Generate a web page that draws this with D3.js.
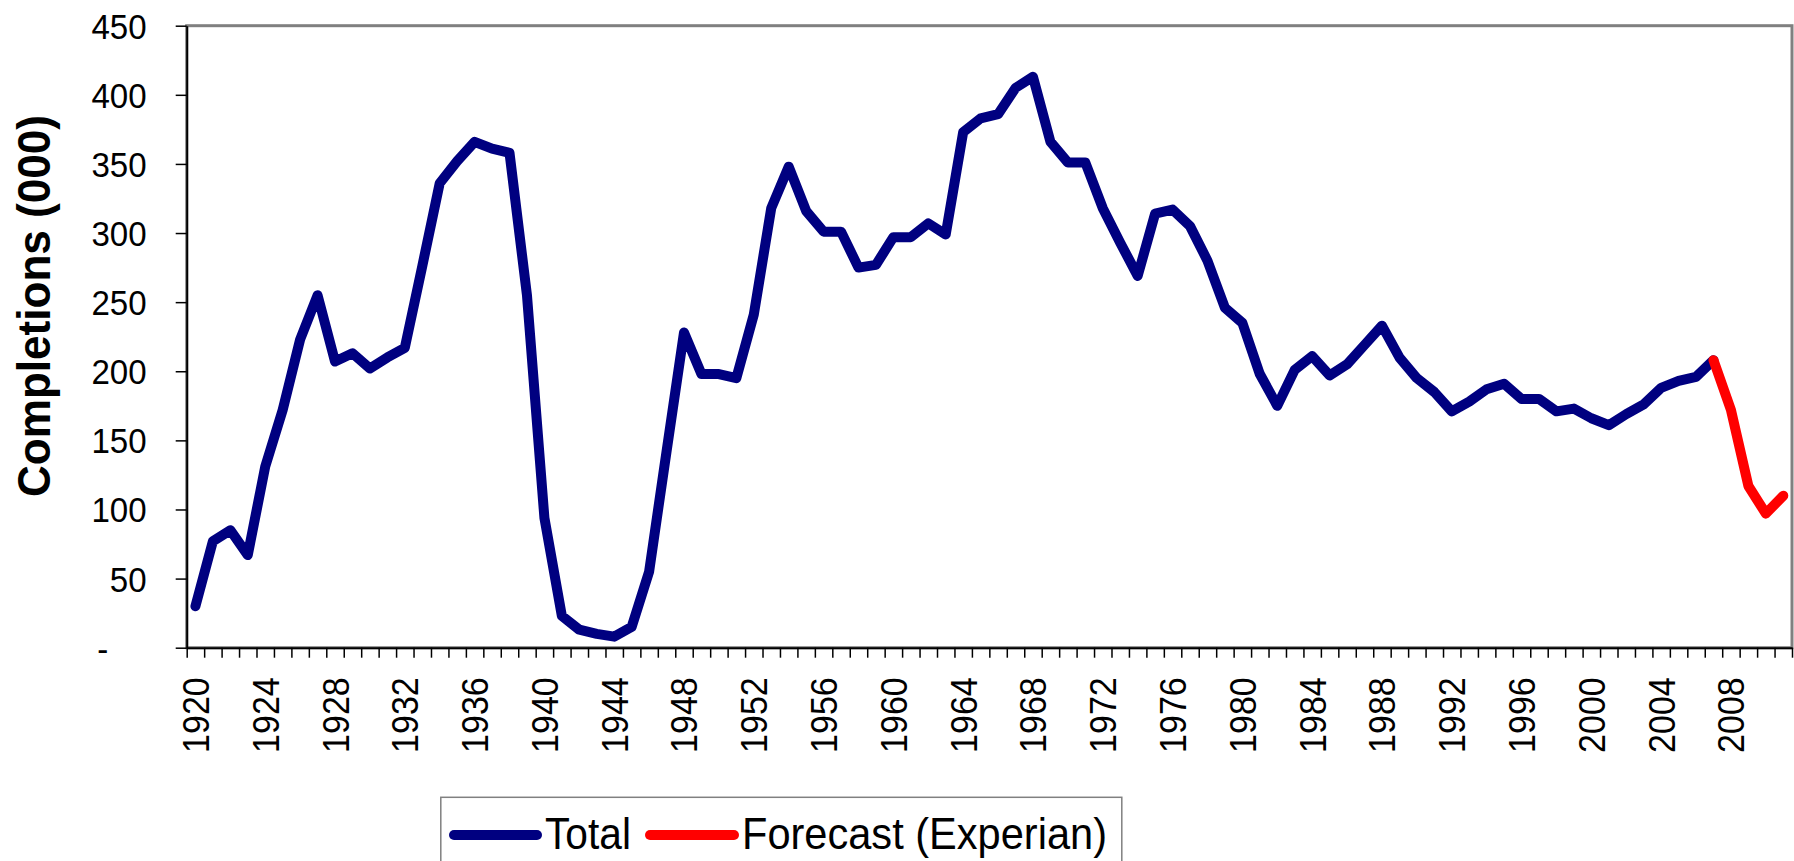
<!DOCTYPE html>
<html>
<head>
<meta charset="utf-8">
<script src="https://cdn.jsdelivr.net/npm/d3@7/dist/d3.min.js"></script>
<style>
  html, body { margin: 0; padding: 0; background: #fff; }
  svg { display: block; }
  text { font-family: "Liberation Sans", Arial, Helvetica, sans-serif; fill: #000; }
</style>
</head>
<body>
<svg id="chart" width="1794" height="861"></svg>
<script>
// ---------- DATA ----------
const years = [
  1920,1921,1922,1923,1924,1925,1926,1927,1928,1929,
  1930,1931,1932,1933,1934,1935,1936,1937,1938,1939,
  1940,1941,1942,1943,1944,1945,1946,1947,1948,1949,
  1950,1951,1952,1953,1954,1955,1956,1957,1958,1959,
  1960,1961,1962,1963,1964,1965,1966,1967,1968,1969,
  1970,1971,1972,1973,1974,1975,1976,1977,1978,1979,
  1980,1981,1982,1983,1984,1985,1986,1987,1988,1989,
  1990,1991,1992,1993,1994,1995,1996,1997,1998,1999,
  2000,2001,2002,2003,2004,2005,2006,2007,2008,2009,
  2010,2011
];
const totalYears = years.slice(0, 88);          // 1920–2007
const totalValues = [
  30, 77, 85, 67, 131, 172, 223, 255, 207, 213,
  202, 210, 217, 276, 336, 352, 366, 361, 358, 255,
  94, 23, 13, 10, 8, 15, 55, 142, 228, 198,
  198, 195, 241, 318, 348, 316, 301, 301, 275, 277,
  297, 297, 307, 299, 373, 383, 386, 405, 413, 366,
  351, 351, 318, 293, 269, 314, 317, 305, 280, 246,
  235, 198, 175, 201, 211, 197, 205, 219, 233, 210,
  195, 185, 171, 178, 187, 191, 180, 180, 171, 173,
  166, 161, 169, 176, 188, 193, 196, 208
];
const forecastYears = [2007, 2008, 2009, 2010, 2011];
const forecastValues = [208, 172, 117, 97, 110];
const yTicks = [0, 50, 100, 150, 200, 250, 300, 350, 400, 450];
const xLabelYears = [1920,1924,1928,1932,1936,1940,1944,1948,1952,1956,1960,1964,1968,1972,1976,1980,1984,1988,1992,1996,2000,2004,2008];
const seriesNames = ["Total", "Forecast (Experian)"];
const seriesColors = ["#000080", "#FF0000"];
const yTitle = "Completions (000)";

// ---------- LAYOUT ----------
const L = 186.7, R = 1792, T = 25.7, B = 647.7;
const svg = d3.select("#chart");

const x = d3.scaleBand().domain(years).range([L, R]).padding(0);
const xEdge = d3.scaleLinear().domain([1920, 2012]).range([L, R]);
const y = d3.scaleLinear().domain([0, 450]).range([B, T]);
const cx = d => x(d) + x.bandwidth() / 2;

// plot border (top/right gray)
svg.append("rect")
  .attr("x", L).attr("y", T).attr("width", R - L).attr("height", B - T)
  .attr("fill", "#fff").attr("stroke", "#808080").attr("stroke-width", 3);

// ---------- Y AXIS ----------
const yAxis = svg.append("g")
  .attr("transform", `translate(${L},0)`)
  .call(d3.axisLeft(y).tickValues(yTicks).tickSize(11).tickSizeOuter(0).tickPadding(29)
        .tickFormat(d => d === 0 ? "-" : d3.format("d")(d)));
yAxis.select(".domain").attr("stroke", "#000").attr("stroke-width", 2);
yAxis.selectAll(".tick line").attr("stroke", "#000").attr("stroke-width", 1.5);
yAxis.selectAll(".tick text")
  .attr("font-size", 36).attr("font-family", "Liberation Sans, Arial, sans-serif")
  .attr("fill", "#000")
  .each(function(d) {
    const t = d3.select(this);
    const xx = d === 0 ? -84 : -40;
    t.attr("text-anchor", d === 0 ? "middle" : "end")
     .attr("x", null).attr("dy", null)
     .attr("transform", `translate(${xx},12.5) scale(0.92,1)`);
  });

// ---------- X AXIS ----------
const xTicksG = svg.append("g")
  .attr("transform", `translate(0,${B})`)
  .call(d3.axisBottom(xEdge).tickValues(d3.range(1920, 2013)).tickSize(10).tickSizeOuter(0).tickFormat(""));
xTicksG.select(".domain").attr("stroke", "#000").attr("stroke-width", 2);
xTicksG.selectAll(".tick line").attr("stroke", "#000").attr("stroke-width", 1.5);

const xLabG = svg.append("g")
  .attr("transform", `translate(0,${B})`)
  .call(d3.axisBottom(x).tickValues(xLabelYears).tickSize(0).tickFormat(d3.format("d")));
xLabG.select(".domain").remove();
xLabG.selectAll(".tick text")
  .attr("font-size", 37).attr("font-family", "Liberation Sans, Arial, sans-serif")
  .attr("fill", "#000")
  .attr("text-anchor", "end")
  .attr("x", null).attr("y", null).attr("dy", null)
  .attr("transform", "translate(13.5,29.5) rotate(-90) scale(0.92,1)");

// ---------- Y TITLE ----------
svg.append("text")
  .attr("transform", "translate(50,306) rotate(-90)")
  .attr("text-anchor", "middle")
  .attr("font-size", 47).attr("font-weight", "bold")
  .attr("textLength", 382).attr("lengthAdjust", "spacingAndGlyphs")
  .text(yTitle);

// ---------- LINES ----------
const line = d3.line().x(d => cx(d[0])).y(d => y(d[1]));
const totalData = totalYears.map((yr, i) => [yr, totalValues[i]]);
const forecastData = forecastYears.map((yr, i) => [yr, forecastValues[i]]);

svg.append("path").datum(totalData)
  .attr("d", line).attr("fill", "none")
  .attr("stroke", seriesColors[0]).attr("stroke-width", 10)
  .attr("stroke-linejoin", "round").attr("stroke-linecap", "round");
svg.append("path").datum(forecastData)
  .attr("d", line).attr("fill", "none")
  .attr("stroke", seriesColors[1]).attr("stroke-width", 10)
  .attr("stroke-linejoin", "round").attr("stroke-linecap", "round");

// ---------- LEGEND ----------
const lg = svg.append("g");
lg.append("rect").attr("x", 440.8).attr("y", 797.3).attr("width", 681).attr("height", 90)
  .attr("fill", "#fff").attr("stroke", "#808080").attr("stroke-width", 1.5);
const legendItems = [
  { name: seriesNames[0], color: seriesColors[0], x1: 454, x2: 537, tx: 545, tw: 86 },
  { name: seriesNames[1], color: seriesColors[1], x1: 650, x2: 734, tx: 742, tw: 365 }
];
legendItems.forEach(it => {
  lg.append("line").attr("x1", it.x1).attr("x2", it.x2).attr("y1", 835).attr("y2", 835)
    .attr("stroke", it.color).attr("stroke-width", 10).attr("stroke-linecap", "round");
  lg.append("text").attr("x", it.tx).attr("y", 849)
    .attr("font-size", 44)
    .attr("textLength", it.tw).attr("lengthAdjust", "spacingAndGlyphs")
    .text(it.name);
});
</script>
</body>
</html>
